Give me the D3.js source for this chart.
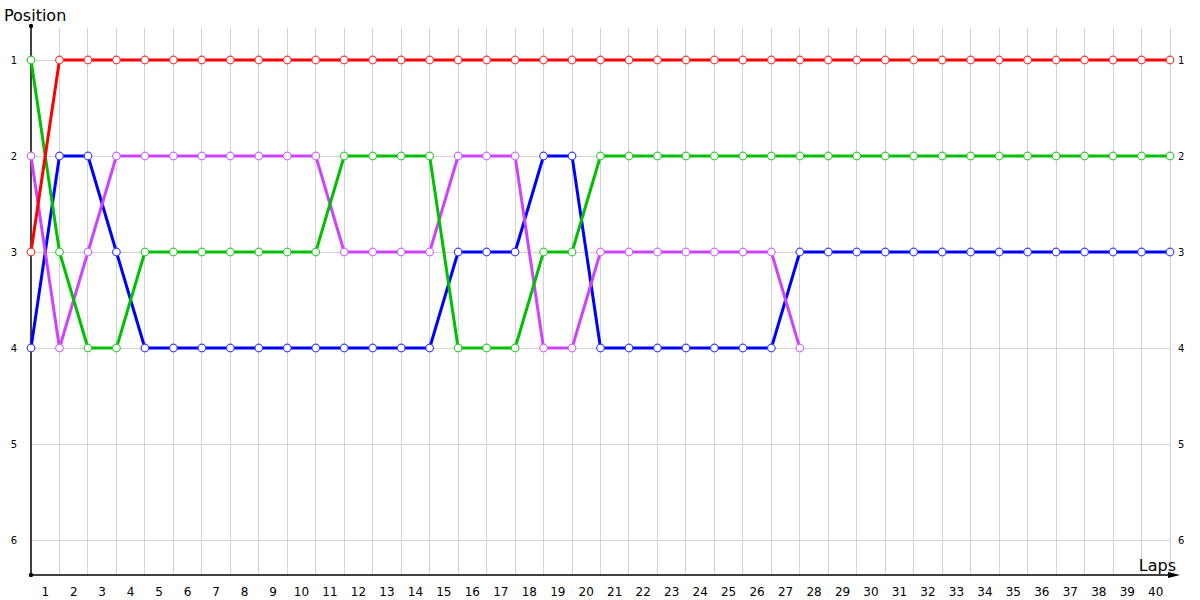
<!DOCTYPE html>
<html><head><meta charset="utf-8">
<script src="https://cdn.jsdelivr.net/npm/d3@7"></script>
<style>body{margin:0;background:#fff}svg{display:block}</style>
</head><body><svg id="c" width="1200" height="600"></svg>
<script>
const laps = d3.range(0, 41);
const lapLabels = d3.range(1, 41).map(String);
const positions = [1, 2, 3, 4, 5, 6];
const redPos = [3, 1,1,1,1,1,1,1,1,1,1, 1,1,1,1,1,1,1,1,1,1, 1,1,1,1,1,1,1,1,1,1, 1,1,1,1,1,1,1,1,1,1];
const greenPos = [1, 3,4,4,3,3,3,3,3,3,3, 2,2,2,2,4,4,4,3,3,2, 2,2,2,2,2,2,2,2,2,2, 2,2,2,2,2,2,2,2,2,2];
const bluePos = [4, 2,2,3,4,4,4,4,4,4,4, 4,4,4,4,3,3,3,2,2,4, 4,4,4,4,4,4,3,3,3,3, 3,3,3,3,3,3,3,3,3,3];
const magentaPos = [2, 4,3,2,2,2,2,2,2,2,2, 3,3,3,3,2,2,2,4,4,3, 3,3,3,3,3,3,4];
const series = [
  {name: "blue", values: bluePos, line: "#0000ff", mark: "#3c3cff"},
  {name: "magenta", values: magentaPos, line: "#cc44ff", mark: "#d266ff"},
  {name: "green", values: greenPos, line: "#00c000", mark: "#33cc33"},
  {name: "red", values: redPos, line: "#ff0000", mark: "#ff3333"}
];

const svg = d3.select("#c");
const x0 = 31, x1 = 1170, yBottom = 575, yTop = 28;
const x = d3.scaleLinear().domain([0, 40]).range([x0, x1]);
const y = d3.scaleLinear().domain([1, 6]).range([60, 540]);
const font = "Verdana, DejaVu Sans, sans-serif";

// grid
const g = svg.append("g");
g.selectAll("line.v").data(laps.slice(1)).join("line")
  .attr("x1", d => x(d)).attr("x2", d => x(d))
  .attr("y1", yTop).attr("y2", yBottom)
  .attr("stroke", "#d3d3d3").attr("stroke-width", 1).attr("shape-rendering", "crispEdges");
g.selectAll("line.h").data(positions).join("line")
  .attr("x1", x0).attr("x2", x1)
  .attr("y1", d => y(d)).attr("y2", d => y(d))
  .attr("stroke", "#d3d3d3").attr("stroke-width", 1).attr("shape-rendering", "crispEdges");

// axes
svg.append("line").attr("x1", x0).attr("x2", x0).attr("y1", 26).attr("y2", yBottom)
  .attr("stroke", "#000").attr("stroke-width", 1.5);
svg.append("circle").attr("cx", x0).attr("cy", 26).attr("r", 2.2).attr("fill", "#000");
svg.append("line").attr("x1", x0).attr("x2", 1172).attr("y1", yBottom).attr("y2", yBottom)
  .attr("stroke", "#000").attr("stroke-width", 1.5);
svg.append("circle").attr("cx", x0).attr("cy", yBottom).attr("r", 2.2).attr("fill", "#000");
svg.append("path").attr("d", `M1168,${yBottom-3} L1180,${yBottom} L1168,${yBottom+3} Z`).attr("fill", "#000");

// tick labels
svg.selectAll("text.xl").data(lapLabels).join("text")
  .attr("x", (d, i) => (x(i) + x(i + 1)) / 2).attr("y", 596)
  .attr("text-anchor", "middle").attr("font-family", font)
  .attr("font-size", 12).attr("fill", "#000").text(d => d);
svg.selectAll("text.yl").data(positions).join("text")
  .attr("x", 14).attr("y", d => y(d) + 3.5)
  .attr("text-anchor", "middle").attr("font-family", font)
  .attr("font-size", 10).attr("fill", "#000").text(d => d);
svg.selectAll("text.yr").data(positions).join("text")
  .attr("x", 1178).attr("y", d => y(d) + 3.5)
  .attr("text-anchor", "start").attr("font-family", font)
  .attr("font-size", 10).attr("fill", "#000").text(d => d);

svg.append("text").attr("x", 4).attr("y", 21).attr("font-family", font)
  .attr("font-size", 16).attr("fill", "#000").text("Position");
svg.append("text").attr("x", 1176).attr("y", 571).attr("text-anchor", "end")
  .attr("font-family", font)
  .attr("font-size", 16).attr("fill", "#000").text("Laps");

// lines
const line = d3.line().x((d, i) => x(i)).y(d => y(d));
series.forEach(s => {
  svg.append("path").datum(s.values).attr("d", line)
    .attr("fill", "none").attr("stroke", s.line).attr("stroke-width", 3)
    .attr("stroke-linejoin", "round");
});
series.forEach(s => {
  svg.append("g").selectAll("circle").data(s.values).join("circle")
    .attr("cx", (d, i) => x(i)).attr("cy", d => y(d)).attr("r", 3.8)
    .attr("fill", "#fff").attr("stroke", s.mark).attr("stroke-width", 1.2);
});
</script></body></html>
